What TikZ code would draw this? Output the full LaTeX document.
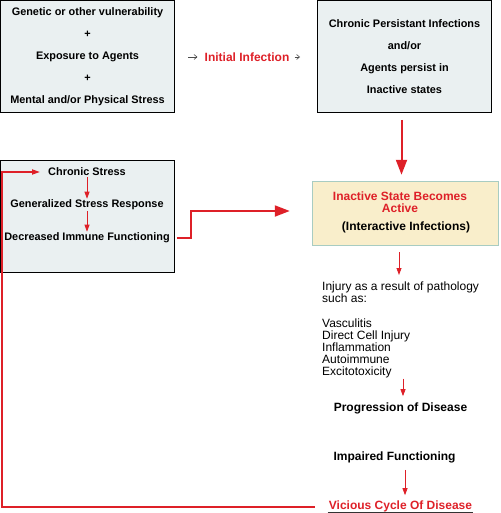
\documentclass[tikz,border=0pt]{standalone}
\usepackage{fontspec}
\setmainfont{Liberation Sans}
\usetikzlibrary{arrows.meta,positioning}
\definecolor{cyclered}{RGB}{222,32,40}
\definecolor{boxfill}{RGB}{234,240,241}
\definecolor{activefill}{RGB}{249,238,203}
\definecolor{activeline}{RGB}{168,204,194}
\tikzset{box/.style={draw=black,fill=boxfill,inner sep=0pt,line width=1pt,minimum width=174pt}}
\tikzset{lbl/.style={font=\bfseries\fontsize{10.9}{22}\selectfont,align=center,inner sep=1pt}}
\tikzset{biglbl/.style={font=\bfseries\fontsize{12}{12}\selectfont,align=center,inner sep=1pt}}
\tikzset{plain/.style={font=\fontsize{12}{12}\selectfont,align=left,inner sep=0pt}}
\tikzset{bigarr/.style={-{Triangle[length=15pt,width=11pt]},cyclered,line width=2pt}}
\tikzset{smallarr/.style={-{Triangle[length=7pt,width=5pt]},cyclered,line width=0.8pt}}
\tikzset{looparr/.style={-{Triangle[length=8pt,width=5pt]},cyclered,line width=1.6pt}}
\tikzset{textarr/.style={-{Straight Barb[length=3pt,width=5pt]},black!70,line width=0.6pt}}

\begin{document}
\begin{tikzpicture}[x=1pt,y=-1pt]
    \useasboundingbox (0,0) rectangle (500,513);
    % top row
    \node[box,lbl,minimum height=112pt] (genbox) at (87.5,56.5)
        {Genetic or other vulnerability\\+\\Exposure to Agents\\+\\Mental and/or Physical Stress};
    \node[biglbl,text=cyclered] (infect) at (247,57) {Initial Infection};
    \node[box,lbl,minimum height=112pt] (persist) at (404.5,56.5)
        {Chronic Persistant Infections\\and/or\\Agents persist in\\Inactive states};
    \draw[textarr,shorten <=13pt] (genbox.east |- infect.west) -- ([xshift=-6pt]infect.west);
    \draw[textarr,shorten >=17pt] ([xshift=4pt]infect.east) -- (infect.east -| persist.west);
    % active state
    \node[draw=activeline,fill=activefill,line width=1.5pt,inner sep=0pt,
        minimum width=186pt,minimum height=64pt] (activebox) at (405.5,213.5) {};
    \node[biglbl,text=cyclered] (active) at (400,202) {Inactive State Becomes\\Active};
    \node[biglbl] (interact) at (406,227) {(Interactive Infections)};
    \draw[bigarr,shorten <=7pt,shorten >=6pt] ([xshift=-3pt]persist.south) -- ([xshift=-4pt]activebox.north);
    % stress box
    \node[box,minimum height=112pt] (stressbox) at (87,216.5) {};
    \node[lbl] (cstress) at (87,172) {Chronic Stress};
    \node[lbl] (gresp) at (87,205) {Generalized Stress Response};
    \node[lbl] (dimmune) at (87,238) {Decreased Immune Functioning};
    \draw[smallarr] (cstress) -- (gresp);
    \draw[smallarr] (gresp) -- (dimmune);
    \coordinate (bend) at (191,211);
    \draw[bigarr,shorten <=6pt,shorten >=22pt] (dimmune.east) -| (bend) -- (bend -| activebox.west);
    % consequences
    \node[plain,anchor=north west] (injury) at (322,282)
        {Injury as a result of pathology\\such as:\\[13pt]Vasculitis\\Direct Cell Injury\\Inflammation\\Autoimmune\\Excitotoxicity};
    \draw[smallarr,shorten <=6pt,shorten >=7pt] ([xshift=-6.5pt]activebox.south) -- ([xshift=-6.5pt]activebox.south |- injury.north);
    \node[biglbl] (progress) at (400.5,408) {Progression of Disease};
    \draw[smallarr,shorten >=5pt] ([xshift=2.5pt]progress.north |- injury.south) -- ([xshift=2.5pt]progress.north);
    \node[biglbl] (impair) at (394.5,457) {Impaired Functioning};
    \node[biglbl,text=cyclered] (vicious) at (400.5,506) {Vicious Cycle Of Disease};
    \draw[black!80,line width=0.8pt] (vicious.south west) -- (vicious.south east);
    \draw[smallarr,shorten <=6pt,shorten >=4pt] ([xshift=10.5pt]impair.south) -- ([xshift=4.5pt]vicious.north);
    % feedback loop
    \coordinate (loopcorner) at (2,505);
    \draw[looparr] ([xshift=-13pt,yshift=-1pt]vicious.west) -| (loopcorner |- cstress.west) -- ([xshift=-7pt]cstress.west);
\end{tikzpicture}
\end{document}
